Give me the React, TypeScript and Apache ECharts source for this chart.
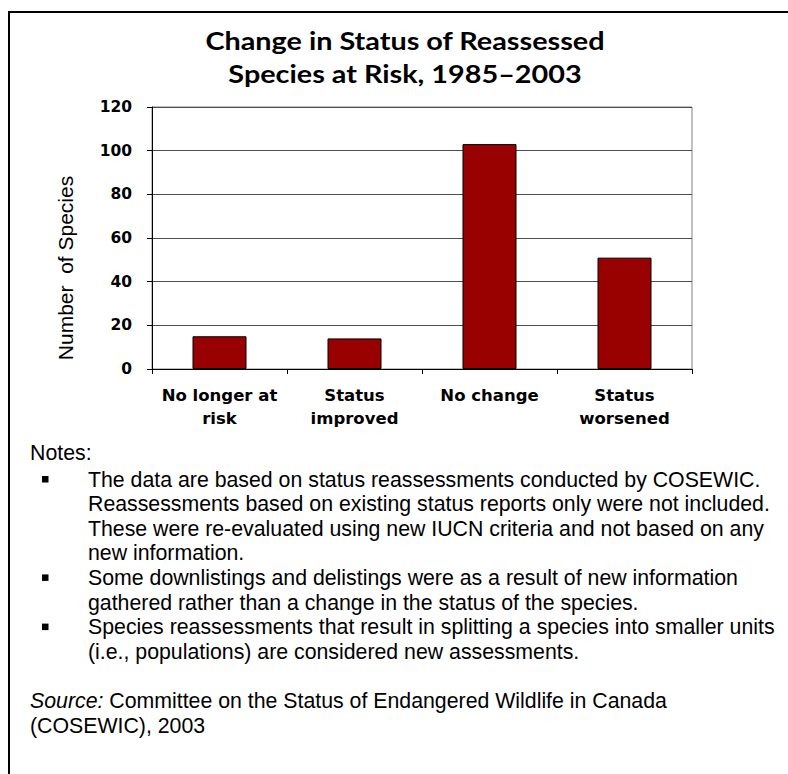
import React, { useEffect, useRef } from "react";
import * as echarts from "echarts";

const categories = ["No longer at\nrisk", "Status\nimproved", "No change", "Status\nworsened"];
const speciesCounts = [15, 14, 103, 51];
const yMin = 0;
const yMax = 120;
const yInterval = 20;

const titleText = "Change in Status of Reassessed\nSpecies at Risk, 1985\u20132003";
const yAxisTitle = "Number  of Species";
const notesHeading = "Notes:";
const noteBullets = [
  [
    "The data are based on status reassessments conducted by COSEWIC.",
    "Reassessments based on existing status reports only were not included.",
    "These were re-evaluated using new IUCN criteria and not based on any",
    "new information.",
  ],
  [
    "Some downlistings and delistings were as a result of new information",
    "gathered rather than a change in the status of the species.",
  ],
  [
    "Species reassessments that result in splitting a species into smaller units",
    "(i.e., populations) are considered new assessments.",
  ],
];
const sourceLabel = "Source:";
const sourceLines = ["Committee on the Status of Endangered Wildlife in Canada", "(COSEWIC), 2003"];

export default function App() {
  const ref = useRef<HTMLDivElement>(null);

  useEffect(() => {
    if (!ref.current) return;
    const chart = echarts.init(ref.current, null, { renderer: "svg" });

    const noteFont = "Liberation Sans, Arial, sans-serif";
    const noteSize = 21.3;
    const lineGap = 24.6;
    const graphics: any[] = [];

    graphics.push({
      type: "rect",
      shape: { x: 9, y: 12, width: 800, height: 800 },
      style: { fill: "none", stroke: "#000", lineWidth: 2 },
      z: 100,
    });
    graphics.push({
      type: "text",
      x: 405,
      y: 24,
      scaleX: 1.2,
      style: {
        text: titleText,
        fontFamily: "Lato, sans-serif",
        fontWeight: "bold",
        fontSize: 24,
        lineHeight: 33,
        fill: "#000",
        align: "center",
        verticalAlign: "top",
      },
    });
    graphics.push({
      type: "text",
      x: 65,
      y: 268,
      rotation: Math.PI / 2,
      style: {
        text: yAxisTitle,
        fontFamily: noteFont,
        fontSize: 21,
        fill: "#000",
        align: "center",
        verticalAlign: "middle",
        whiteSpace: "pre",
      },
    });
    graphics.push({
      type: "text",
      x: 30,
      y: 453,
      style: { text: notesHeading, fontFamily: noteFont, fontSize: noteSize, fill: "#000", align: "left", verticalAlign: "middle" },
    });
    let y = 479.5;
    noteBullets.forEach((lines) => {
      graphics.push({
        type: "rect",
        shape: { x: 42, y: y - 3.5, width: 6.5, height: 6.5 },
        style: { fill: "#000" },
      });
      lines.forEach((ln) => {
        graphics.push({
          type: "text",
          x: 88,
          y,
          style: { text: ln, fontFamily: noteFont, fontSize: noteSize, fill: "#000", align: "left", verticalAlign: "middle" },
        });
        y += lineGap;
      });
    });
    y += lineGap;
    graphics.push({
      type: "text",
      x: 30,
      y,
      style: {
        text: "{i|" + sourceLabel + "} " + sourceLines[0],
        fontFamily: noteFont,
        fontSize: noteSize,
        fill: "#000",
        align: "left",
        verticalAlign: "middle",
        rich: { i: { fontStyle: "italic", fontFamily: noteFont, fontSize: noteSize, fill: "#000" } },
      },
    });
    y += lineGap;
    graphics.push({
      type: "text",
      x: 30,
      y,
      style: { text: sourceLines[1], fontFamily: noteFont, fontSize: noteSize, fill: "#000", align: "left", verticalAlign: "middle" },
    });

    const axisFont = "DejaVu Sans, sans-serif";

    chart.setOption({
      animation: false,
      backgroundColor: "#fff",
      grid: {
        left: 152,
        top: 107,
        right: 96,
        bottom: 405,
        show: true,
        borderColor: "#808080",
        borderWidth: 1,
        backgroundColor: "#fff",
      },
      xAxis: {
        type: "category",
        data: categories,
        boundaryGap: true,
        axisLine: { show: true, lineStyle: { color: "#000", width: 1 } },
        axisTick: { show: true, length: 5, alignWithLabel: false, lineStyle: { color: "#000" } },
        axisLabel: {
          interval: 0,
          margin: 15,
          fontFamily: axisFont,
          fontWeight: "bold",
          fontSize: 16.5,
          lineHeight: 23,
          color: "#000",
          align: "center",
        },
        splitLine: { show: false },
      },
      yAxis: {
        type: "value",
        min: yMin,
        max: yMax,
        interval: yInterval,
        axisLine: { show: true, lineStyle: { color: "#000", width: 1 } },
        axisTick: { show: true, length: 5, lineStyle: { color: "#000" } },
        axisLabel: {
          margin: 20,
          fontFamily: axisFont,
          fontWeight: "bold",
          fontSize: 15.5,
          color: "#000",
        },
        splitLine: { show: true, lineStyle: { color: "#4d4d4d", width: 1 } },
      },
      series: [
        {
          type: "bar",
          data: speciesCounts,
          barWidth: "40%",
          itemStyle: { color: "#990000", borderColor: "#000", borderWidth: 1 },
        },
      ],
      graphic: graphics,
    });

    return () => chart.dispose();
  }, []);

  return (
    <div
      ref={ref}
      style={{ position: "fixed", left: 0, top: 0, width: 788, height: 774, background: "#fff" }}
    />
  );
}
